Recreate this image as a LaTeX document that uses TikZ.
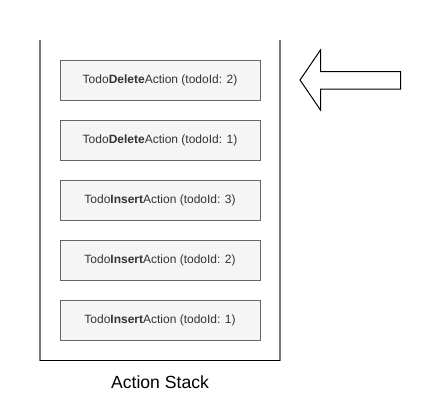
\documentclass[tikz,border=0pt]{standalone}
\usepackage{fontspec}
\setmainfont{Liberation Sans}
\definecolor{boxfill}{HTML}{F5F5F5}
\definecolor{boxline}{HTML}{666666}
\definecolor{wallline}{HTML}{777777}
\definecolor{txt}{HTML}{333333}
\begin{document}
\begin{tikzpicture}[x=0.75pt,y=-0.75pt,
  actionbox/.style={draw=boxline,fill=boxfill,line width=0.75pt,minimum width=150pt,minimum height=30pt,inner sep=0pt,text=txt,font=\fontsize{9}{11}\selectfont},
  wall/.style={draw=wallline,line width=1.1pt},
  floor/.style={draw=black,line width=1.1pt},
  bigarrow/.style={draw=black,fill=white,line width=0.75pt,line join=miter}]
\useasboundingbox (0,0) rectangle (431,411);
\node[actionbox] (a1) at (160,80) {Todo\textbf{Delete}Action (todoId: 2)};
\node[actionbox] (a2) at (160,140) {Todo\textbf{Delete}Action (todoId: 1)};
\node[actionbox] (a3) at (160,200) {Todo\textbf{Insert}Action (todoId: 3)};
\node[actionbox] (a4) at (160,260) {Todo\textbf{Insert}Action (todoId: 2)};
\node[actionbox] (a5) at (160,320) {Todo\textbf{Insert}Action (todoId: 1)};
\coordinate (tl) at (40,40);
\coordinate (bl) at (40,360.5);
\coordinate (tr) at (280,40);
\coordinate (br) at (280,360.5);
\draw[wall] (tl) -- (bl);
\draw[wall] (tr) -- (br);
\draw[floor] (bl) -- (br);
\node[font=\fontsize{13.2}{15}\selectfont,text=black] (lbl) at (160,382) {Action Stack};
\draw[bigarrow] (300,80) -- (320.5,50) -- (320.5,71.5) -- (400.5,71.5) -- (400.5,89) -- (320.5,89) -- (320.5,110) -- cycle;
\end{tikzpicture}
\end{document}
